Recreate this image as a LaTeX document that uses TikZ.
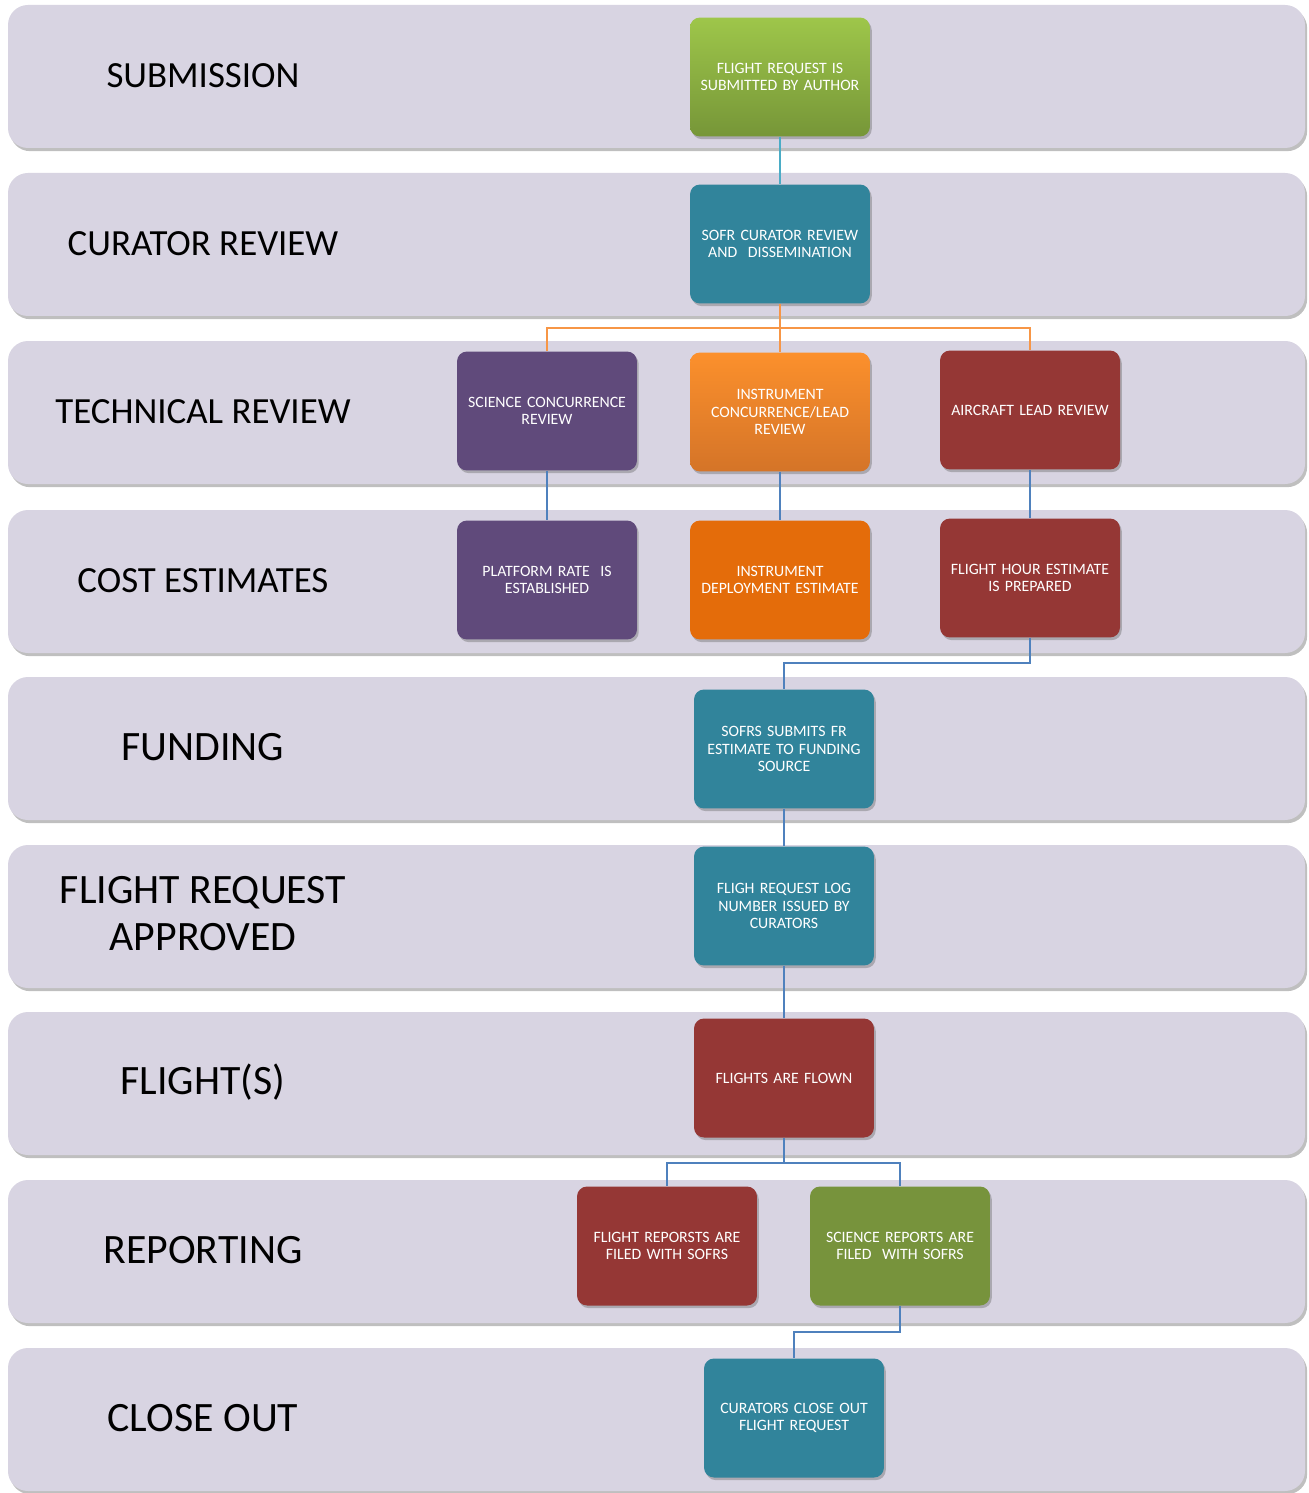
\documentclass[tikz,border=0pt]{standalone}
\RequirePackage{fontspec}
\RequirePackage{tikz}
\usetikzlibrary{shadows}
\setmainfont{Carlito}

\definecolor{bandfill}{RGB}{216,212,226}
\definecolor{subtop}{RGB}{158,198,74}
\definecolor{subbot}{RGB}{118,150,56}
\definecolor{tealbox}{RGB}{49,132,155}
\definecolor{purplebox}{RGB}{96,74,123}
\definecolor{orangetop}{RGB}{252,144,44}
\definecolor{orangebot}{RGB}{212,116,40}
\definecolor{orangebox}{RGB}{228,108,10}
\definecolor{redbox}{RGB}{149,55,53}
\definecolor{olivebox}{RGB}{119,147,60}
\definecolor{linkblue}{RGB}{79,129,189}
\definecolor{linkcyan}{RGB}{75,172,198}
\definecolor{linkorange}{RGB}{247,150,70}

\tikzset{
    band/.style={fill=bandfill,rounded corners=0.4cm,
        drop shadow={shadow xshift=1.2pt,shadow yshift=-1.8pt,opacity=0.45,fill=black!55}},
    stage/.style={font=\fontsize{21}{26.7}\selectfont,align=center,text=black},
    stagebig/.style={stage,font=\fontsize{23.8}{26.7}\selectfont},
    task/.style={rounded corners=0.2cm,minimum width=3.6cm,minimum height=2.38cm,
        text width=3.4cm,align=center,text=white,inner sep=0pt,
        font=\fontsize{9}{9.9}\selectfont,
        drop shadow={shadow xshift=1pt,shadow yshift=-1.5pt,opacity=0.4,fill=black!60}},
    link/.style={draw=linkblue,line width=1.1pt},
}

\begin{document}
\begin{tikzpicture}[x=0.02cm,y=-0.02cm]
                \useasboundingbox[fill=white] (0,0) rectangle (1308,1493);

                \foreach \t in {5,173,341,510,677,845,1012,1180,1348}
                    \fill[band] (8,\t) rectangle (1305,\t+143);

                \node[stage] (lsubmission) at (203,76) {SUBMISSION};
                \node[stage] (lcurator) at (203,244) {CURATOR REVIEW};
                \node[stage] (ltechnical) at (203,412) {TECHNICAL REVIEW};
                \node[stage] (lcost) at (203,581) {COST ESTIMATES};
                \node[stagebig] (lfunding) at (203,747) {FUNDING};
                \node[stagebig] (lapproved) at (203,914) {FLIGHT REQUEST\\APPROVED};
                \node[stagebig] (lflights) at (203,1082) {FLIGHT(S)};
                \node[stagebig] (lreporting) at (203,1250) {REPORTING};
                \node[stagebig] (lcloseout) at (203,1418) {CLOSE OUT};

                \node[task,top color=subtop,bottom color=subbot] (submit) at (780,77) {FLIGHT REQUEST IS\\SUBMITTED BY AUTHOR};
                \node[task,fill=tealbox] (curator) at (780,244) {SOFR CURATOR REVIEW\\AND\ \ DISSEMINATION};
                \node[task,fill=purplebox] (science) at (547,411) {SCIENCE CONCURRENCE\\REVIEW};
                \node[task,top color=orangetop,bottom color=orangebot] (instrument) at (780,412) {INSTRUMENT\\CONCURRENCE/LEAD\\REVIEW};
                \node[task,fill=redbox] (aircraft) at (1030,410) {AIRCRAFT LEAD REVIEW};
                \node[task,fill=purplebox] (platform) at (547,580) {PLATFORM RATE\ \ IS\\ESTABLISHED};
                \node[task,fill=orangebox] (deployment) at (780,580) {INSTRUMENT\\DEPLOYMENT ESTIMATE};
                \node[task,fill=redbox] (hours) at (1030,578) {FLIGHT HOUR ESTIMATE\\IS PREPARED};
                \node[task,fill=tealbox] (funding) at (784,749) {SOFRS SUBMITS FR\\ESTIMATE TO FUNDING\\SOURCE};
                \node[task,fill=tealbox] (lognumber) at (784,906) {FLIGH REQUEST LOG\\NUMBER ISSUED BY\\CURATORS};
                \node[task,fill=redbox] (flown) at (784,1078) {FLIGHTS ARE FLOWN};
                \node[task,fill=redbox] (flightrep) at (667,1246) {FLIGHT REPORSTS ARE\\FILED WITH SOFRS};
                \node[task,fill=olivebox] (sciencerep) at (900,1246) {SCIENCE REPORTS ARE\\FILED\ \ WITH SOFRS};
                \node[task,fill=tealbox] (closeout) at (794,1418) {CURATORS CLOSE OUT\\FLIGHT REQUEST};

                \coordinate (techsplit) at (780,328);
                \coordinate (fundjoin) at (1030,663);
                \coordinate (repsplit) at (784,1163);
                \coordinate (closejoin) at (900,1332);

                \draw[link,draw=linkcyan] (submit) -- (curator);
                \draw[link,draw=linkorange] (curator.south) -- (techsplit) -| (science.north);
                \draw[link,draw=linkorange] (techsplit) -| (aircraft.north);
                \draw[link,draw=linkorange] (techsplit) -- (instrument.north);
                \draw[link] (science) -- (platform);
                \draw[link] (instrument) -- (deployment);
                \draw[link] (aircraft) -- (hours);
                \draw[link] (hours.south) -- (fundjoin) -| (funding.north);
                \draw[link] (funding) -- (lognumber);
                \draw[link] (lognumber) -- (flown);
                \draw[link] (flown.south) -- (repsplit) -| (flightrep.north);
                \draw[link] (repsplit) -| (sciencerep.north);
                \draw[link] (sciencerep.south) -- (closejoin) -| (closeout.north);
            \end{tikzpicture}
\end{document}
